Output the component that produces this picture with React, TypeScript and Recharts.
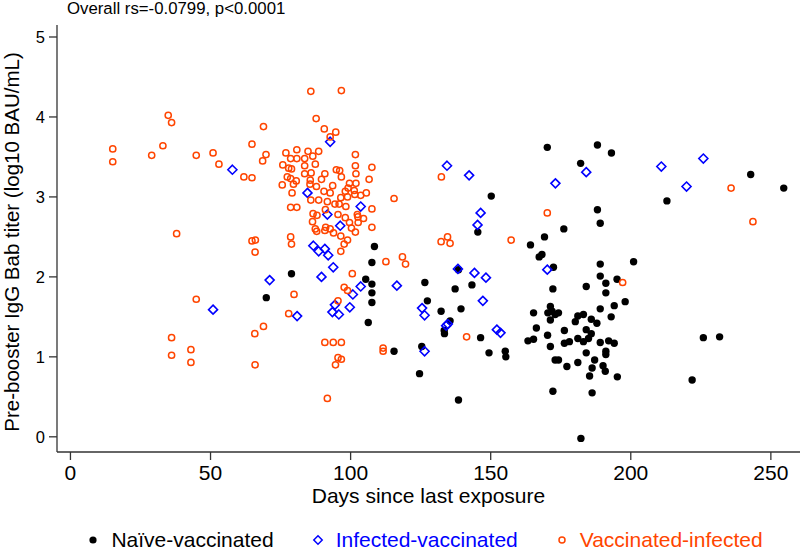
import React from "react";
import {
  ScatterChart,
  Scatter,
  XAxis,
  YAxis,
  Legend,
} from "recharts";

// [days since last exposure, log10 BAU/mL]
const naiveVaccinated: [number, number][] = [
  [78.9, 2.04], [69.9, 1.74], [105.4, 1.97], [106.3, 1.43], [150.2, 3.01],
  [145.4, 2.56], [108.5, 2.38], [107.6, 2.18], [138.5, 2.09], [107.6, 1.91],
  [107.6, 1.8], [107.6, 1.68], [126.5, 1.93], [137.3, 1.85], [143.3, 1.9],
  [127.4, 1.7], [139.4, 1.6], [132.3, 1.57], [135.5, 1.45], [133.4, 1.33],
  [133.5, 1.29], [146.4, 1.24], [115.5, 1.07], [125.4, 1.13], [149.4, 1.05],
  [155.2, 1.07], [155.4, 1.0], [124.6, 0.79], [138.5, 0.46],
  [170.2, 3.62], [188.1, 3.65], [193.1, 3.55], [182.1, 3.42], [188.1, 2.84],
  [189.1, 2.67], [176.1, 2.6], [169.2, 2.5], [164.2, 2.4], [167.3, 2.25],
  [168.3, 2.28], [172.4, 2.12], [189.1, 2.16], [201.0, 2.19], [189.1, 2.01],
  [191.1, 1.92], [195.1, 1.97], [172.2, 1.85], [184.1, 1.88],
  [191.1, 1.8], [198.0, 1.69], [194.1, 1.64], [189.1, 1.6], [193.0, 1.5],
  [171.3, 1.63], [170.4, 1.55], [171.9, 1.57], [174.2, 1.55], [171.3, 1.46],
  [173.0, 1.53], [165.3, 1.55], [181.1, 1.51], [183.1, 1.53], [180.2, 1.44],
  [185.9, 1.47], [187.9, 1.42], [166.3, 1.36], [176.3, 1.33], [184.1, 1.34],
  [185.9, 1.29], [184.9, 1.23], [170.3, 1.27], [163.3, 1.2], [165.3, 1.22],
  [181.1, 1.23], [183.1, 1.19], [176.3, 1.17], [178.1, 1.19], [189.1, 1.18],
  [192.1, 1.2], [194.1, 1.17], [171.3, 1.13], [191.1, 1.07], [191.1, 1.03],
  [184.1, 1.05], [173.0, 0.96], [174.2, 0.96], [187.1, 0.96], [181.1, 0.93],
  [177.2, 0.88], [190.1, 0.89], [190.9, 0.82], [186.2, 0.86], [185.3, 0.76],
  [195.2, 0.75], [172.2, 0.57], [186.2, 0.55], [182.2, -0.02],
  [242.8, 3.28], [254.6, 3.11], [212.9, 2.95], [225.9, 1.24], [231.7, 1.25],
  [221.9, 0.71],
];

const infectedVaccinated: [number, number][] = [
  [57.8, 3.34], [50.9, 1.59], [92.7, 3.69], [84.6, 3.05], [91.7, 2.78],
  [103.6, 2.88], [96.3, 2.64], [86.7, 2.39], [88.6, 2.32], [90.8, 2.35],
  [92.0, 2.27], [93.8, 2.12], [89.6, 2.0], [71.1, 1.96], [103.6, 1.88],
  [100.8, 1.78], [94.4, 1.65], [99.7, 1.62], [93.5, 1.56], [95.8, 1.53],
  [80.9, 1.51], [134.4, 3.39], [142.3, 3.27], [146.4, 2.8], [145.3, 2.65],
  [138.3, 2.1], [144.2, 2.05], [148.3, 1.99], [116.5, 1.89], [147.2, 1.7],
  [125.5, 1.61], [126.4, 1.52], [134.7, 1.41], [134.1, 1.39], [152.2, 1.34],
  [153.5, 1.3], [126.4, 1.07], [184.1, 3.31], [173.1, 3.17], [170.2, 2.09],
  [210.9, 3.38], [225.9, 3.48], [219.9, 3.13],
];

const vaccinatedInfected: [number, number][] = [
  [34.9, 4.02], [36.1, 3.93], [15.1, 3.6], [15.1, 3.44], [29.0, 3.52],
  [33.0, 3.64], [44.9, 3.52], [50.9, 3.55], [53.0, 3.41], [37.9, 2.54],
  [44.9, 1.72], [36.1, 1.24], [43.0, 1.09], [36.1, 1.02], [43.0, 0.93],
  [85.8, 4.32], [96.7, 4.33], [87.7, 3.98], [68.9, 3.88], [90.6, 3.85],
  [94.7, 3.81], [92.7, 3.75], [64.8, 3.66], [69.8, 3.53], [68.6, 3.45],
  [61.9, 3.25], [64.8, 3.24],
  [80.8, 3.59], [84.8, 3.57], [88.6, 3.57], [76.9, 3.55], [101.7, 3.53],
  [78.6, 3.48], [80.8, 3.48], [83.6, 3.48], [86.5, 3.51], [75.8, 3.4],
  [77.9, 3.36], [78.9, 3.35], [83.6, 3.39], [87.4, 3.41], [101.7, 3.39],
  [94.9, 3.34], [96.1, 3.33], [77.4, 3.25], [78.6, 3.23], [83.6, 3.29],
  [85.9, 3.3], [90.8, 3.29], [101.9, 3.29], [96.7, 3.25], [80.6, 3.2],
  [85.6, 3.21], [89.6, 3.22], [99.6, 3.17], [101.9, 3.17], [75.6, 3.15],
  [79.6, 3.16], [85.5, 3.16], [87.8, 3.13], [93.6, 3.14], [99.1, 3.11],
  [101.3, 3.08], [79.1, 3.05], [90.5, 3.07], [92.7, 3.05], [98.1, 3.07],
  [98.9, 3.0], [101.5, 3.03], [96.5, 2.99], [85.8, 2.96], [88.6, 2.96],
  [91.7, 2.94], [94.4, 2.91], [95.9, 2.91], [98.3, 2.88], [78.6, 2.87],
  [80.8, 2.87], [91.0, 2.84], [86.6, 2.79], [88.0, 2.77], [95.5, 2.78],
  [98.1, 2.74], [102.4, 2.78], [86.4, 2.69], [99.6, 2.68], [102.7, 2.68],
  [91.1, 2.62], [87.4, 2.6],
  [87.9, 2.57], [90.8, 2.58], [92.7, 2.6], [93.9, 2.55], [100.3, 2.61],
  [101.7, 2.56], [78.6, 2.5], [78.9, 2.41], [96.5, 2.51], [98.9, 2.46],
  [97.7, 2.41], [96.5, 2.32], [100.6, 2.04], [97.7, 1.87], [98.9, 1.83],
  [79.8, 1.78], [95.5, 1.7], [77.9, 1.54],
  [64.8, 2.45], [66.0, 2.46], [65.9, 2.31], [68.9, 1.38], [65.8, 1.29],
  [65.9, 0.9], [90.8, 1.18], [93.8, 1.18], [96.7, 1.18], [95.5, 0.99],
  [96.7, 0.97], [94.6, 0.9], [91.7, 0.48],
  [107.6, 3.37], [106.6, 3.22], [105.6, 3.05], [103.6, 3.02], [115.5, 2.98],
  [107.6, 2.85], [104.6, 2.73], [102.6, 2.75], [107.6, 2.62], [132.4, 3.25],
  [132.3, 2.44], [134.6, 2.5], [135.5, 2.42], [157.3, 2.46], [112.6, 2.19],
  [118.5, 2.25], [119.6, 2.16], [141.4, 1.25], [111.6, 1.11], [111.6, 1.07],
  [170.2, 2.8], [197.1, 1.93], [235.8, 3.11], [243.6, 2.69],
];

const seriesNames = ["Naïve-vaccinated", "Infected-vaccinated", "Vaccinated-infected"];
const seriesColors = ["#000000", "#0000ff", "#ff4500"];
const xTicks = [0, 50, 100, 150, 200, 250];
const yTicks = [0, 1, 2, 3, 4, 5];

const font = '"Liberation Sans", Arial, sans-serif';

const toPoints = (rows: [number, number][]) => rows.map(([x, y]) => ({ x, y }));

const SolidDot = (p: any) => <circle cx={p.cx} cy={p.cy} r={3.7} fill={seriesColors[0]} />;

const HollowDiamond = (p: any) => {
  const s = 4.5;
  return (
    <path
      d={`M${p.cx},${p.cy - s}L${p.cx + s},${p.cy}L${p.cx},${p.cy + s}L${p.cx - s},${p.cy}Z`}
      fill="none"
      stroke={seriesColors[1]}
      strokeWidth={1.6}
    />
  );
};

const HollowCircle = (p: any) => (
  <circle cx={p.cx} cy={p.cy} r={3.1} fill="none" stroke={seriesColors[2]} strokeWidth={1.5} />
);

function LegendMarker({ i }: { i: number }) {
  return (
    <svg width={12} height={12} style={{ marginRight: 12 }}>
      {i === 0 && <circle cx={6} cy={6} r={3.6} fill={seriesColors[0]} />}
      {i === 1 && (
        <path d="M6,1.8L10.2,6L6,10.2L1.8,6Z" fill="none" stroke={seriesColors[1]} strokeWidth={1.5} />
      )}
      {i === 2 && <circle cx={6} cy={6} r={3} fill="none" stroke={seriesColors[2]} strokeWidth={1.5} />}
    </svg>
  );
}

function LegendRow() {
  return (
    <div
      style={{
        display: "flex",
        justifyContent: "center",
        alignItems: "center",
        height: 30,
        paddingTop: 6,
        paddingLeft: 50,
        boxSizing: "border-box",
        fontFamily: font,
        fontSize: 21,
      }}
    >
      {seriesNames.map((name, i) => (
        <div
          key={name}
          style={{ display: "flex", alignItems: "center", marginLeft: i === 0 ? 0 : 38, color: seriesColors[i] }}
        >
          <LegendMarker i={i} />
          <span>{name}</span>
        </div>
      ))}
    </div>
  );
}

function YTitle(props: any) {
  const vb = props.viewBox || { y: 25, height: 427 };
  const x = 18.5;
  const y = vb.y + vb.height / 2 + 3.5;
  return (
    <text
      x={x}
      y={y}
      transform={`rotate(-90 ${x} ${y})`}
      textAnchor="middle"
      fontSize={20.5}
      fill="#000"
    >
      Pre-booster IgG Bab titer (log10 BAU/mL)
    </text>
  );
}

export default function App() {
  const axisStyle = { stroke: "#333", strokeWidth: 1.3 };
  return (
    <div style={{ position: "relative", width: 800, height: 552, fontFamily: font, background: "#fff" }}>
      <style>{"body{margin:0}"}</style>
      <div
        style={{ position: "absolute", left: 67, top: 1, fontSize: 16.8, lineHeight: "16.8px", color: "#000", zIndex: 2 }}
      >
        Overall rs=-0.0799, p&lt;0.0001
      </div>
      <ScatterChart width={800} height={552} margin={{ top: 25, right: 0, bottom: 0, left: 0 }}>
        <XAxis
          type="number"
          dataKey="x"
          domain={[-4.8, 260.4]}
          ticks={xTicks}
          interval={0}
          allowDataOverflow
          height={70}
          tickSize={8}
          tickMargin={5}
          axisLine={axisStyle}
          tickLine={axisStyle}
          tick={{ fontSize: 21, fill: "#000" }}
          label={{
            value: "Days since last exposure",
            position: "insideBottom",
            offset: 19,
            fontSize: 21,
            fill: "#000",
          }}
        />
        <YAxis
          type="number"
          dataKey="y"
          domain={[-0.19, 5.15]}
          ticks={yTicks}
          interval={0}
          allowDataOverflow
          width={57}
          tickSize={8}
          tickMargin={4}
          axisLine={axisStyle}
          tickLine={axisStyle}
          tick={{ fontSize: 16.5, fill: "#000" }}
          label={<YTitle />}
        />
        <Legend verticalAlign="bottom" height={30} content={() => <LegendRow />} />
        <Scatter
          name={seriesNames[0]}
          data={toPoints(naiveVaccinated)}
          shape={SolidDot}
          isAnimationActive={false}
        />
        <Scatter
          name={seriesNames[1]}
          data={toPoints(infectedVaccinated)}
          shape={HollowDiamond}
          isAnimationActive={false}
        />
        <Scatter
          name={seriesNames[2]}
          data={toPoints(vaccinatedInfected)}
          shape={HollowCircle}
          isAnimationActive={false}
        />
      </ScatterChart>
    </div>
  );
}
